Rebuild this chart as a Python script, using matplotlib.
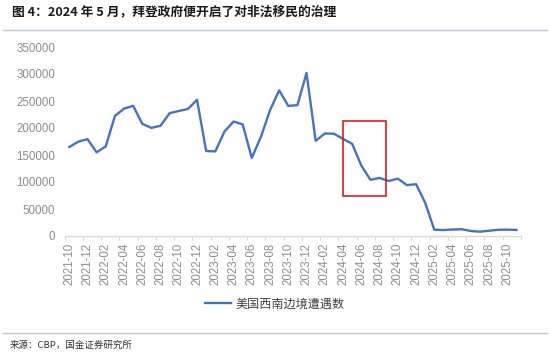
import matplotlib
matplotlib.use("Agg")
import matplotlib.pyplot as plt
from matplotlib.patches import Rectangle
from matplotlib.lines import Line2D

plt.rcParams['font.family'] = ['Noto Sans CJK SC', 'DejaVu Sans']

months = [f"{y}-{m:02d}" for y, m in
          [(2021, 10), (2021, 11), (2021, 12)] +
          [(2022, m) for m in range(1, 13)] +
          [(2023, m) for m in range(1, 13)] +
          [(2024, m) for m in range(1, 13)] +
          [(2025, m) for m in range(1, 12)]]

encounters = [164800, 174800, 179300, 154900, 166000, 222200, 235800, 241100,
              207800, 200200, 204100, 227500, 231500, 235200, 252300, 157400,
              156600, 193200, 212000, 206700, 144600, 183500, 233000, 269700,
              240900, 242400, 302000, 176200, 189900, 189400, 179700, 170700,
              130400, 104100, 107500, 101800, 106300, 94200, 96000, 61500,
              11700, 11000, 12000, 12500, 9300, 8000, 9700, 11500, 11800, 11200]

series_name = "美国西南边境遭遇数"
title = "图 4：2024 年 5 月，拜登政府便开启了对非法移民的治理"
source = "来源：CBP，国金证券研究所"
yticks = [0, 50000, 100000, 150000, 200000, 250000, 300000, 350000]
# highlight box (category index range, value range)
box_x = (30.0, 34.7)
box_y = (74600, 213000)

W, H = 550, 354
fig = plt.figure(figsize=(W / 100, H / 100), dpi=100)
ax = fig.add_axes([64.7 / W, 1 - 236 / H, (521 - 64.7) / W, (236 - 47) / H])

x = list(range(len(months)))
line, = ax.plot(x, encounters, color='#4472C4', lw=1.7, solid_joinstyle='round')

ax.set_xlim(-0.5, len(months) - 0.5)
ax.set_ylim(0, 350000)
ax.set_yticks(yticks)
ax.set_yticklabels([str(v) for v in yticks], family=['Liberation Sans', 'DejaVu Sans'],
                   fontsize=8.3, color='#8c8c8c')
ax.tick_params(axis='y', length=0, pad=7)

lab_pos = x[::2]
ax.set_xticks(lab_pos)
ax.set_xticklabels([months[i] for i in lab_pos], rotation=90,
                   family=['Liberation Sans', 'DejaVu Sans'], fontsize=8.3, color='#8c8c8c')
ax.tick_params(axis='x', which='major', length=0, pad=5)
ax.set_xticks([i - 0.5 for i in range(0, len(months) + 1, 2)], minor=True)
ax.tick_params(axis='x', which='minor', length=3, color='#d9d9d9', width=0.8)

for s in ['top', 'right', 'left']:
    ax.spines[s].set_visible(False)
ax.spines['bottom'].set_color('#d9d9d9')
ax.spines['bottom'].set_linewidth(1.0)

ax.add_patch(Rectangle((box_x[0], box_y[0]), box_x[1] - box_x[0], box_y[1] - box_y[0],
                       fill=False, edgecolor='#e3191c', lw=1.2, zorder=5))

handle = Line2D([], [], color='#4472C4', lw=1.7)
fig.legend([handle], [series_name], loc='center', bbox_to_anchor=(0.5, 1 - 304 / H),
           frameon=False, fontsize=8.7, handlelength=2.1, handletextpad=0.4,
           labelcolor='#404040')

fig.text(12 / W, 1 - 12 / H, title, fontsize=9.2, fontweight='bold', style='italic',
         color='#1a1a1a', va='center', ha='left')
fig.add_artist(Line2D([3 / W, 547 / W], [1 - 30 / H, 1 - 30 / H], color='#bccad8', lw=1.0))
fig.add_artist(Line2D([3 / W, 547 / W], [1 - 333 / H, 1 - 333 / H], color='#bccad8', lw=1.0))
fig.text(10 / W, 1 - 345 / H, source, fontsize=6.8, color='#333333', va='center', ha='left')

fig.savefig('out.png', dpi=100)
